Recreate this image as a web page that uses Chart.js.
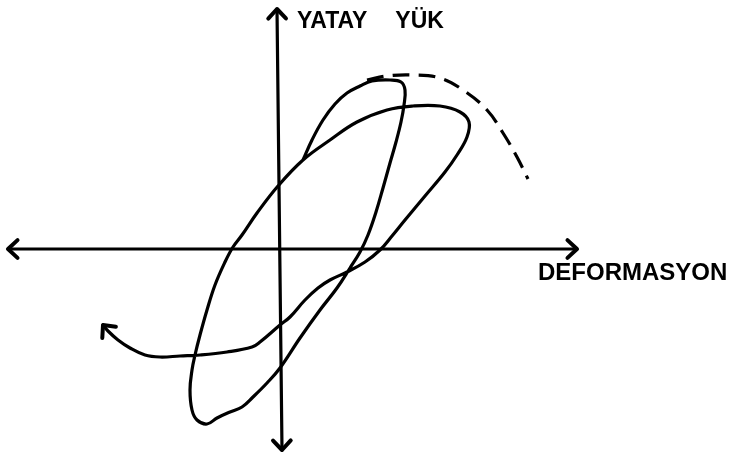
<!DOCTYPE html>
<html>
<head>
    <title>Yatay Yük - Deformasyon</title>
    <script src="https://cdn.jsdelivr.net/npm/chart.js@4.4.1/dist/chart.umd.min.js"></script>
    <style>
        body { margin: 0; background: #fff; }
        canvas { display: block; }
    </style>
</head>
<body>
    <canvas id="chart" width="734" height="466"></canvas>

    <script>
        // eksen etiketleri
        const yLabel = 'YATAY YÜK';
        const xLabel = 'DEFORMASYON';

        // eksen uçları (deformasyon / yük birimi)
        const axisX = [-27.0, 29.9];
        const axisY = [-20.1, 24.0];

        // çevrim eğrisi: deformasyon ve yük değerleri
        const deform = [
            2.5, 3.4, 4.5, 5.7, 6.9, 8.2, 9.4, 11.2, 12.3, 12.7,
            12.6, 12.3, 11.8, 11.2, 10.5, 9.8, 9.0, 8.2, 7.2, 5.9,
            4.2, 2.2, 0.2, -1.1, -2.5, -3.6, -4.8, -6.1, -7.1, -8.1,
            -8.6, -8.8, -8.6, -8.3, -7.8, -7.1, -6.3, -5.3, -4.5, -3.6,
            -2.1, 0.0, 2.5, 5.2, 7.9, 10.9, 13.5, 16.2, 18.2, 19.1,
            18.9, 17.9, 16.7, 14.7, 12.7, 11.4, 10.2, 8.7, 6.9, 5.2,
            4.0, 2.7, 1.2, 0.2, -1.8, -2.6, -5.1, -7.8, -9.8, -11.8,
            -13.3, -14.8, -16.0, -17.0, -17.5
        ];
        const load = [
            8.9, 10.9, 12.9, 14.5, 15.6, 16.3, 16.8, 16.9, 16.7, 15.9,
            14.4, 12.7, 10.7, 8.6, 6.1, 3.7, 1.4, -0.3, -1.9, -3.9,
            -6.1, -8.9, -11.9, -13.4, -14.8, -15.8, -16.3, -16.9, -17.5, -17.1,
            -16.1, -14.1, -12.1, -10.6, -8.6, -6.1, -3.6, -1.3, 0.2, 1.4,
            3.6, 6.3, 8.9, 10.9, 12.7, 13.9, 14.3, 14.3, 13.7, 12.7,
            11.2, 9.4, 7.7, 5.3, 2.9, 1.3, -0.1, -1.3, -2.3, -3.1,
            -3.9, -5.1, -6.8, -7.6, -9.3, -9.8, -10.3, -10.6, -10.7, -10.8,
            -10.6, -9.9, -9.1, -8.2, -7.6
        ];

        // kesikli zarf eğrisi
        const envDeform = [8.9, 10.9, 13.5, 16.2, 18.5, 20.9, 22.5, 23.9, 25.0];
        const envLoad = [16.9, 17.3, 17.4, 17.1, 15.9, 13.9, 11.6, 9.2, 7.0];

        const toPoints = (xs, ys) => xs.map((x, i) => ({ x: x, y: ys[i] }));

        const ink = '#000';

        function drawHead(ctx, ax, ay, bx, by) {
            const ang = Math.atan2(by - ay, bx - ax);
            const len = 13;
            const spread = Math.PI / 4.2;
            ctx.beginPath();
            ctx.moveTo(bx - len * Math.cos(ang - spread), by - len * Math.sin(ang - spread));
            ctx.lineTo(bx, by);
            ctx.lineTo(bx - len * Math.cos(ang + spread), by - len * Math.sin(ang + spread));
            ctx.stroke();
        }

        const arrowPlugin = {
            id: 'arrowHeads',
            afterDatasetsDraw(chart) {
                const ctx = chart.ctx;
                ctx.save();
                ctx.strokeStyle = ink;
                ctx.lineWidth = 4;
                ctx.lineCap = 'round';
                ctx.lineJoin = 'round';
                chart.data.datasets.forEach((ds, i) => {
                    if (!ds.arrowAt) return;
                    const pts = chart.getDatasetMeta(i).data;
                    ds.arrowAt.forEach(end => {
                        const a = end === 'start' ? pts[1] : pts[pts.length - 2];
                        const b = end === 'start' ? pts[0] : pts[pts.length - 1];
                        drawHead(ctx, a.x, a.y, b.x, b.y);
                    });
                });
                ctx.restore();
            }
        };

        const labelPlugin = {
            id: 'axisLabels',
            afterDraw(chart) {
                const ctx = chart.ctx;
                const xs = chart.scales.x;
                const ys = chart.scales.y;
                ctx.save();
                ctx.fillStyle = ink;
                ctx.textBaseline = 'alphabetic';

                // dikey eksen etiketi, kelimeler arası geniş boşluk
                ctx.font = 'bold 23px "Liberation Sans", Arial, sans-serif';
                let tx = xs.getPixelForValue(0) + 19;
                const ty = ys.getPixelForValue(axisY[1]) + 19;
                yLabel.split(' ').forEach(w => {
                    ctx.fillText(w, tx, ty);
                    tx += ctx.measureText(w).width + 28;
                });

                ctx.font = 'bold 24px "Liberation Sans", Arial, sans-serif';
                ctx.fillText(xLabel, xs.getPixelForValue(axisX[1]) - 39, ys.getPixelForValue(0) + 31);
                ctx.restore();
            }
        };

        const lineStyle = {
            borderColor: ink,
            borderWidth: 3.2,
            pointRadius: 0,
            showLine: true,
            fill: false,
            borderCapStyle: 'round',
            borderJoinStyle: 'round'
        };

        new Chart(document.getElementById('chart'), {
            type: 'scatter',
            data: {
                datasets: [
                    Object.assign({}, lineStyle, {
                        label: 'x ekseni',
                        data: [{ x: axisX[0], y: 0 }, { x: axisX[1], y: 0 }],
                        arrowAt: ['start', 'end']
                    }),
                    Object.assign({}, lineStyle, {
                        label: 'y ekseni',
                        data: [{ x: 0.4, y: axisY[0] }, { x: -0.1, y: axisY[1] }],
                        arrowAt: ['start', 'end']
                    }),
                    Object.assign({}, lineStyle, {
                        label: 'çevrim',
                        data: toPoints(deform, load),
                        tension: 0.4,
                        arrowAt: ['end']
                    }),
                    Object.assign({}, lineStyle, {
                        label: 'zarf',
                        data: toPoints(envDeform, envLoad),
                        tension: 0.4,
                        borderDash: [17, 9],
                        borderCapStyle: 'butt'
                    })
                ]
            },
            options: {
                responsive: false,
                animation: false,
                layout: { padding: 0 },
                scales: {
                    x: { type: 'linear', display: false, min: -27.8, max: 45.6 },
                    y: { type: 'linear', display: false, min: -21.7, max: 24.9 }
                },
                plugins: {
                    legend: { display: false },
                    tooltip: { enabled: false }
                }
            },
            plugins: [arrowPlugin, labelPlugin]
        });
    </script>
</body>
</html>
